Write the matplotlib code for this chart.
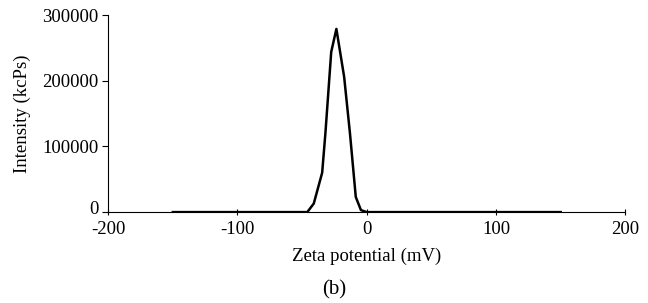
import matplotlib.pyplot as plt
import matplotlib.transforms as mtransforms
import numpy as np

# zeta potential distribution
zeta = [-150, -100, -50, -46, -41, -34.5, -32, -27.5, -23.5, -17.5, -13, -8.5, -4.5, 0, 50, 150]
intensity = [0, 0, 0, 0, 13000, 60000, 120000, 244000, 279000, 206000, 120000, 23000, 3000, 0, 0, 0]

xticks = [-200, -100, 0, 100, 200]
yticks = [0, 100000, 200000, 300000]

plt.rcParams['font.family'] = ['Liberation Serif', 'DejaVu Serif']
plt.rcParams['font.size'] = 13.5
plt.rcParams['axes.unicode_minus'] = False

fig = plt.figure(figsize=(6.48, 3.03), dpi=100)
ax = fig.add_axes([0.167, 0.30, 0.798, 0.65])
ax.plot(zeta, intensity, color="black", linewidth=1.8)

ax.set_xlim(-200, 200)
ax.set_ylim(0, 300000)
ax.set_xticks(xticks)
ax.set_yticks(yticks)
ax.spines['top'].set_visible(False)
ax.spines['right'].set_visible(False)
ax.spines['left'].set_linewidth(0.8)
ax.spines['bottom'].set_linewidth(0.8)
ax.tick_params(axis='x', direction='inout', length=5, width=0.8, pad=4)
ax.tick_params(axis='y', direction='out', length=4, width=0.8, pad=3)

# nudge the "0" on the y axis up a little so it clears the -200 below it
zero_lab = ax.get_yticklabels()[0]
zero_lab.set_transform(zero_lab.get_transform() +
                       mtransforms.ScaledTranslation(0, 3 / 72, fig.dpi_scale_trans))

ax.set_ylabel("Intensity (kcPs)")
ax.yaxis.set_label_coords(-0.15, 0.5)
ax.set_xlabel("Zeta potential (mV)")
ax.xaxis.set_label_coords(0.5, -0.18)
fig.text(0.515, 0.043, "(b)", ha="center", va="center", fontsize=15)

fig.savefig("out.png", dpi=100)
plt.close()
